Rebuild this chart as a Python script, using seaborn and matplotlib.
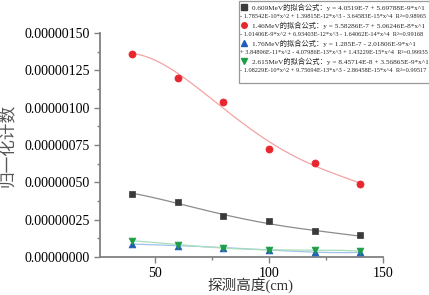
import numpy as np
import pandas as pd
import seaborn as sns
import matplotlib.pyplot as plt
from matplotlib.lines import Line2D
from matplotlib.transforms import Affine2D
from matplotlib.ticker import MultipleLocator, FormatStrFormatter

# measured data (detector height in cm, normalized counts)
height = [40, 60, 80, 100, 120, 140]
e0609 = [4.24e-7, 3.66e-7, 2.72e-7, 2.41e-7, 1.72e-7, 1.47e-7]
e146 = [1.359e-6, 1.200e-6, 1.036e-6, 7.25e-7, 6.31e-7, 4.91e-7]
e176 = [8.8e-8, 7.5e-8, 6.0e-8, 5.0e-8, 3.4e-8, 3.2e-8]
e2615 = [1.10e-7, 8.2e-8, 6.1e-8, 4.9e-8, 4.6e-8, 4.2e-8]

# fit coefficients from the legend (x^0 .. x^4)
c0609 = [4.0519e-7, 5.69788e-9, -1.78542e-10, 1.39815e-12, -3.64583e-15]
c146 = [5.58286e-7, 5.06246e-8, -1.01406e-9, 6.93403e-12, -1.64062e-14]
c176 = [1.285e-7, -2.01806e-9, 3.84896e-11, -4.07986e-13, 1.43229e-15]
c2615 = [8.45714e-8, 3.56865e-9, -1.08229e-10, 9.75694e-13, -2.86458e-15]

line1 = [
    '0.609MeV的拟合公式：y = 4.0519E-7 + 5.69788E-9*x^1',
    '1.46MeV的拟合公式：y = 5.58286E-7 + 5.06246E-8*x^1',
    '1.76MeV的拟合公式：y = 1.285E-7 - 2.01806E-9*x^1',
    '2.615MeV的拟合公式：y = 8.45714E-8 + 3.56865E-9*x^1',
]
line2 = [
    '- 1.78542E-10*x^2 + 1.39815E-12*x^3 - 3.64583E-15*x^4  R²=0.98965',
    '- 1.01406E-9*x^2 + 6.93403E-12*x^3 - 1.64062E-14*x^4  R²=0.99168',
    '+ 3.84896E-11*x^2 - 4.07986E-13*x^3 + 1.43229E-15*x^4  R²=0.99935',
    '- 1.08229E-10*x^2 + 9.75694E-13*x^3 - 2.86458E-15*x^4  R²=0.99517',
]

sns.set_style('ticks')
plt.rcParams['font.family'] = ['Liberation Serif', 'Noto Sans CJK SC', 'DejaVu Sans']
plt.rcParams['axes.unicode_minus'] = False

fig = plt.figure(figsize=(4.29, 2.95), dpi=100)
ax = fig.add_axes([100/429, 1-257/295, 283/429, 224/295])

series = [
    (e0609, c0609, '#3a3a3a', '#8c8c8c', 's', 16),
    (e146, c146, '#e8262e', '#f4a3a3', 'o', 26),
    (e176, c176, '#1f5cb8', '#a3c0ea', '^', 24),
    (e2615, c2615, '#1c9e48', '#a8dfbb', 'v', 24),
]

xfit = np.linspace(40, 140, 200)
handles, labels = [], []
for i, (yv, coef, mc, lc, mk, sz) in enumerate(series):
    yfit = np.polynomial.polynomial.polyval(xfit, coef)
    sns.lineplot(x=xfit, y=yfit, ax=ax, color=lc, lw=0.9, zorder=2)
    sns.scatterplot(x=height, y=yv, ax=ax, color=mc, marker=mk, s=sz,
                    edgecolor=mc, linewidth=0.5, zorder=3)
    handles.append(Line2D([], [], ls='', marker=mk, color=mc, markersize=4))
    labels.append(line1[i])
    handles.append(Line2D([], [], ls='', marker=''))
    labels.append(line2[i])
handles.append(Line2D([], [], ls='', marker=''))
labels.append(' ')

ax.set_xlim(26, 150)
ax.set_ylim(0, 1.5e-6)
ax.xaxis.set_major_locator(MultipleLocator(50))
ax.xaxis.set_minor_locator(MultipleLocator(25))
ax.yaxis.set_major_locator(MultipleLocator(2.5e-7))
ax.yaxis.set_minor_locator(MultipleLocator(1.25e-7))
ax.yaxis.set_major_formatter(FormatStrFormatter('%.8f'))

for s in ['top', 'right']:
    ax.spines[s].set_visible(False)
for s in ['left', 'bottom']:
    ax.spines[s].set_color('#808080')
    ax.spines[s].set_linewidth(1.3)
ax.tick_params(which='major', length=4, width=1, color='#808080',
               labelsize=10, pad=3.5, labelcolor='black')
ax.tick_params(which='minor', length=2.5, width=1, color='#808080')

ax.set_xlabel('探测高度(cm)', fontsize=10.5, color='#333333')
ax.xaxis.set_label_coords(0.53, -0.09)
ax.set_ylabel('归一化计数', fontsize=12, color='#555555',
              family=['Noto Sans CJK SC'])
ax.yaxis.set_label_coords(-0.295, 0.5)

leg = ax.legend(handles, labels, loc='upper left',
                bbox_to_anchor=(239/429, 1-1/295), bbox_transform=fig.transFigure,
                fontsize=4.8, handlelength=0.9, handletextpad=0.7,
                borderpad=0.3, labelspacing=0.36, borderaxespad=0,
                fancybox=False, frameon=True)
leg.get_frame().set_edgecolor('#808080')
leg.get_frame().set_linewidth(0.9)
texts = leg.get_texts()
for i in range(8):
    texts[i].set_fontsize(5.2 if i % 2 == 0 else 4.6)

fig.canvas.draw()
r = fig.canvas.get_renderer()
fx0 = leg.get_frame().get_window_extent(r).x0
for i in range(1, 8, 2):
    t = texts[i]
    shift = t.get_window_extent(r).x0 - (fx0 + 1.5)
    t.set_transform(t.get_transform() + Affine2D().translate(-shift, 0))

plt.savefig('out.png', dpi=100)
